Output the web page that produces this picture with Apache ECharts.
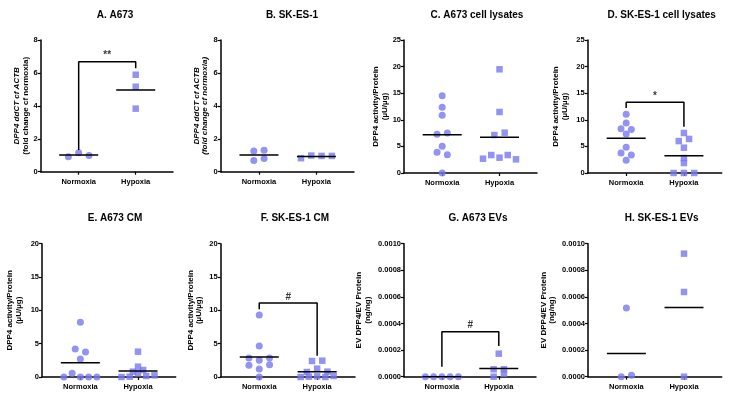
<!DOCTYPE html>
<html>
<head>
<meta charset="utf-8">
<script src="https://cdn.jsdelivr.net/npm/echarts@6/dist/echarts.min.js"></script>
<style>
  html, body { margin: 0; padding: 0; background: #fff; }
  #chart { width: 734px; height: 396px; }
</style>
</head>
<body>
<div id="chart"></div>
<script>
// groups on the x axis
const groups = ['Normoxia', 'Hypoxia'];

// values per panel, order = left to right within a row
const aNorm = [0.91, 1.15, 0.99];
const aHyp = [5.89, 5.16, 3.83];
const bNorm = [1.25, 1.31, 0.68, 0.80];
const bHyp = [0.82, 0.98, 0.96, 0.96];
const cNorm = [14.54, 12.34, 10.84, 7.27, 7.52, 5.01, 3.88, 3.45, 0];
const cHyp = [19.49, 11.47, 7.14, 7.58, 2.69, 3.38, 2.88, 3.38, 2.57];
const dNorm = [11.03, 9.4, 8.33, 8.2, 7.33, 4.83, 3.76, 3.38, 2.38];
const dHyp = [7.52, 6.0, 6.4, 4.76, 2.82, 1.88, 0, 0, 0];
const eNorm = [8.2, 4.2, 3.75, 2.7, 0, 0.55, 0, 0, 0];
const eHyp = [3.8, 1.55, 0.8, 1.05, 0, 0.05, 0.55, 0.15, 0.25];
const fNorm = [9.3, 4.65, 2.85, 2.5, 2.85, 1.75, 1.2, 1.85, 0];
const fHyp = [2.4, 2.45, 0.75, 1.25, 0.8, 0, 0.05, 0.1, 0, 0.15];
const gNorm = [0, 0, 0, 0, 0];
const gHyp = [0.000173, 0.0000556, 0.0000556, 0, 0.0000226];
const hNorm = [0.000516, 0, 0.00001];
const hHyp = [0.000925, 0.000637, 0];

// significance brackets: [left leg end, top, right leg end]
const sigA = [1.32, 6.68, 6.28];
const sigD = [12.2, 13.3, 8.7];
const sigF = [10.15, 11.1, 3.2];
const sigG = [0.000075, 0.000338, 0.00023];

const titles = ['A. A673', 'B. SK-ES-1', 'C. A673 cell lysates', 'D. SK-ES-1 cell lysates',
  'E. A673 CM', 'F. SK-ES-1 CM', 'G. A673 EVs', 'H. SK-ES-1 EVs'];

const FONT = '"Liberation Sans", Arial, sans-serif';
const DOT = '#7878f0';
const XMIN = 0.334, XMAX = 2.654;

// panel boxes in px
const boxes = [
  { left: 40.7, top: 40, width: 132.3, height: 131.7, tx: 110, ty: 5, gap: 11 },
  { left: 220.7, top: 40, width: 133.3, height: 131.7, tx: 287, ty: 5, gap: 11.5 },
  { left: 404, top: 40, width: 133, height: 133, tx: 472, ty: 5, gap: 12.5 },
  { left: 587.7, top: 40, width: 134, height: 133, tx: 656.7, ty: 5, gap: 19 },
  { left: 42, top: 243.7, width: 133.7, height: 133.3, tx: 110, ty: 208, gap: 19 },
  { left: 220.7, top: 243.7, width: 134.3, height: 133.3, tx: 290, ty: 208, gap: 17.5 },
  { left: 404, top: 243.7, width: 132, height: 133, tx: 473, ty: 208, gap: 32 },
  { left: 588, top: 243.7, width: 133.7, height: 133, tx: 656.7, ty: 208, gap: 31.5 }
];

// Prism-like spreading: points closer than ~4.5px vertically share a row
function swarm(vals, center, box, yMax) {
  const pyu = box.height / yMax;
  const xpu = (XMAX - XMIN) / box.width;
  const idx = vals.map((v, i) => i).sort((a, b) => vals[a] - vals[b] || a - b);
  const rows = [];
  let cur = null;
  idx.forEach(i => {
    if (cur && (vals[i] - vals[cur[0]]) * pyu <= 4.5) cur.push(i);
    else { cur = [i]; rows.push(cur); }
  });
  const out = [];
  rows.forEach(r => {
    r.sort((a, b) => a - b);
    const n = r.length;
    const sp = n >= 6 ? 6.8 : n >= 5 ? 8.25 : 10.3;
    r.forEach((i, k) => out.push([center + (k - (n - 1) / 2) * sp * xpu, vals[i]]));
  });
  return out;
}

const mean = arr => arr.reduce((s, v) => s + v, 0) / arr.length;

const yName1 = '{i|DPP4 ddCT cf ACTB}\n{n|(fold change cf normoxia)}';
const yName1b = '{i|DPP4 ddCT cf ACTB}\n{i|(fold change cf normoxia)}';
const yName2 = 'DPP4 activity/Protein\n(\u00b5U/\u00b5g)';
const yName3 = 'EV DPP4/EV Protein\n(ng/ng)';

const panels = [
  { norm: aNorm, hyp: aHyp, max: 8, step: 2, name: yName1, sig: sigA, mark: '**' },
  { norm: bNorm, hyp: bHyp, max: 8, step: 2, name: yName1b },
  { norm: cNorm, hyp: cHyp, max: 25, step: 5, name: yName2 },
  { norm: dNorm, hyp: dHyp, max: 25, step: 5, name: yName2, sig: sigD, mark: '*' },
  { norm: eNorm, hyp: eHyp, max: 20, step: 5, name: yName2 },
  { norm: fNorm, hyp: fHyp, max: 20, step: 5, name: yName2, sig: sigF, mark: '#' },
  { norm: gNorm, hyp: gHyp, max: 0.001, step: 0.0002, name: yName3, sig: sigG, mark: '#', dec: 4 },
  { norm: hNorm, hyp: hHyp, max: 0.001, step: 0.0002, name: yName3, dec: 4 }
];

const option = {
  animation: false,
  backgroundColor: '#fff',
  title: [], grid: [], xAxis: [], yAxis: [], series: []
};

panels.forEach((p, i) => {
  const b = boxes[i];
  option.title.push({
    text: titles[i], left: b.tx, top: b.ty, textAlign: 'center',
    textStyle: { fontFamily: FONT, fontSize: 10, fontWeight: 'bold', color: '#000' }
  });
  option.grid.push({ left: b.left, top: b.top, width: b.width, height: b.height });
  option.xAxis.push({
    type: 'value', gridIndex: i, min: XMIN, max: XMAX,
    splitLine: { show: false },
    axisLine: { lineStyle: { color: '#000', width: 1.5 } },
    axisTick: { customValues: [1, 2], length: 3, lineStyle: { color: '#000', width: 1.2 } },
    axisLabel: {
      customValues: [1, 2], margin: 6,
      formatter: v => groups[Math.round(v) - 1] || '',
      fontFamily: FONT, fontSize: 7.5, fontWeight: 'bold', color: '#000'
    }
  });
  option.yAxis.push({
    type: 'value', gridIndex: i, min: 0, max: p.max, interval: p.step,
    name: p.name, nameLocation: 'middle', nameGap: b.gap, nameRotate: 90,
    nameTextStyle: {
      fontFamily: FONT, fontSize: 8, fontWeight: 'bold', color: '#000', lineHeight: 8.5,
      rich: {
        i: { fontFamily: FONT, fontSize: 8, fontWeight: 'bold', fontStyle: 'italic', lineHeight: 8.5 },
        n: { fontFamily: FONT, fontSize: 8, fontWeight: 'bold', lineHeight: 8.5 }
      }
    },
    splitLine: { show: false },
    axisLine: { show: true, lineStyle: { color: '#000', width: 1.5 } },
    axisTick: { show: true, length: 3, lineStyle: { color: '#000', width: 1.2 } },
    axisLabel: {
      margin: 3, fontFamily: FONT, fontSize: 7.5, fontWeight: 'bold', color: '#000',
      formatter: v => p.dec ? v.toFixed(p.dec) : String(v)
    }
  });

  const half = 19.5 * (XMAX - XMIN) / b.width;
  const mN = mean(p.norm), mH = mean(p.hyp);

  option.series.push({
    type: 'scatter', xAxisIndex: i, yAxisIndex: i, symbol: 'circle', symbolSize: 7,
    itemStyle: { color: DOT }, data: swarm(p.norm, 1, b, p.max), z: 3
  });
  option.series.push({
    type: 'scatter', xAxisIndex: i, yAxisIndex: i, symbol: 'rect', symbolSize: 6.5,
    itemStyle: { color: DOT }, data: swarm(p.hyp, 2, b, p.max), z: 3
  });
  option.series.push({
    type: 'line', xAxisIndex: i, yAxisIndex: i, symbol: 'none', connectNulls: false,
    lineStyle: { color: '#000', width: 1.5 }, z: 4,
    data: [[1 - half, mN], [1 + half, mN], null, [2 - half, mH], [2 + half, mH]]
  });
  if (p.sig) {
    option.series.push({
      type: 'line', xAxisIndex: i, yAxisIndex: i, symbol: 'none',
      lineStyle: { color: '#000', width: 1.5 }, z: 4,
      data: [[1, p.sig[0]], [1, p.sig[1]], [2, p.sig[1]], [2, p.sig[2]]]
    });
    option.series.push({
      type: 'scatter', xAxisIndex: i, yAxisIndex: i, symbolSize: 0, z: 5,
      label: {
        show: true, position: 'top', distance: 1, formatter: p.mark,
        fontFamily: FONT, fontSize: 10, fontWeight: 'bold', color: '#000'
      },
      data: [[1.5, p.sig[1]]]
    });
  }
});

const chart = echarts.init(document.getElementById('chart'), null, { renderer: 'canvas' });
chart.setOption(option);
</script>
</body>
</html>
